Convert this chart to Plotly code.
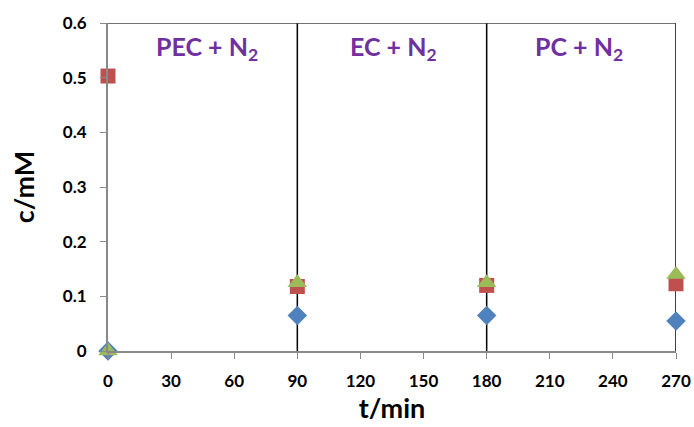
import plotly.graph_objects as go

# Sampling times (min) and measured concentrations (mM)
t_min = [0, 90, 180, 270]
series_blue = [0.0, 0.065, 0.065, 0.055]
series_red = [0.503, 0.118, 0.120, 0.123]
series_green = [0.0, 0.125, 0.125, 0.140]

x_ticks = [0, 30, 60, 90, 120, 150, 180, 210, 240, 270]
y_ticks = [0, 0.1, 0.2, 0.3, 0.4, 0.5, 0.6]
y_tick_text = ["0", "0.1", "0.2", "0.3", "0.4", "0.5", "0.6"]

stage_labels = ["PEC + N<sub>2</sub>", "EC + N<sub>2</sub>", "PC + N<sub>2</sub>"]
stage_centers = [47, 135.5, 224]
stage_bounds = [90, 180, 270]

FONT = "Lato, 'Open Sans', sans-serif"

fig = go.Figure()
fig.add_trace(go.Scatter(x=t_min, y=series_blue, mode="markers",
                         marker=dict(symbol="diamond", size=15, color="#4F81BD"),
                         cliponaxis=False, showlegend=False))
fig.add_trace(go.Scatter(x=t_min, y=series_red, mode="markers",
                         marker=dict(symbol="square", size=15, color="#C0504D"),
                         cliponaxis=False, showlegend=False))
fig.add_trace(go.Scatter(x=t_min, y=series_green, mode="markers",
                         marker=dict(symbol="triangle-up", size=17, color="#9BBB59"),
                         cliponaxis=False, showlegend=False))

# Stage separators and the closing frame
for xb in stage_bounds:
    fig.add_shape(type="line", x0=xb, x1=xb, y0=0, y1=0.6, xref="x", yref="y",
                  line=dict(color="black", width=1.5), layer="below")
fig.add_shape(type="line", x0=0, x1=270, y0=0.6, y1=0.6, xref="x", yref="y",
              line=dict(color="#404040", width=1.5), layer="below")

for lab, xc in zip(stage_labels, stage_centers):
    fig.add_annotation(x=xc, y=0.555, text=lab, showarrow=False, xref="x", yref="y",
                       font=dict(family=FONT, size=25, color="#7030A0", weight="bold"))

fig.update_xaxes(range=[0, 270], tickvals=x_ticks, ticks="outside", ticklen=6,
                 tickcolor="#898989", showline=True, linecolor="#898989", linewidth=2,
                 showgrid=False, zeroline=False, automargin=False, ticklabelstandoff=8,
                 tickfont=dict(family=FONT, size=17, color="black", weight="bold"),
                 title=dict(text="t/min", standoff=6,
                            font=dict(family=FONT, size=27, color="black", weight="bold")))
fig.update_yaxes(range=[0, 0.6], tickvals=y_ticks, ticktext=y_tick_text, ticks="outside",
                 ticklen=6, tickcolor="#898989", showline=True, linecolor="#898989",
                 linewidth=2, showgrid=False, zeroline=False, automargin=False,
                 ticklabelstandoff=10,
                 tickfont=dict(family=FONT, size=17, color="black", weight="bold"),
                 title=dict(text="c/mM", standoff=20,
                            font=dict(family=FONT, size=27, color="black", weight="bold")))

fig.update_layout(width=694, height=427, margin=dict(l=108, r=18, t=23, b=76),
                  plot_bgcolor="white", paper_bgcolor="white")

fig.write_html("out.html")
